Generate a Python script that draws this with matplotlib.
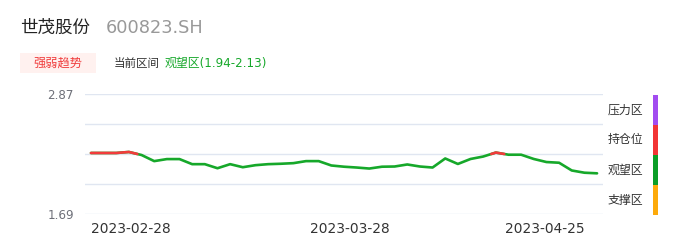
import numpy as np
import matplotlib
matplotlib.use('Agg')
import matplotlib.pyplot as plt
from matplotlib.patches import Rectangle
from matplotlib.transforms import ScaledTranslation

plt.rcParams['font.family'] = ['DejaVu Sans', 'Noto Sans CJK SC']

# data
stock_name = '世茂股份'
stock_code = '600823.SH'
zone_text = '观望区(1.94-2.13)'
tick_dates = ['2023-02-28', '2023-03-28', '2023-04-25']
tick_index = [0, 20, 40]
prices = [2.29, 2.29, 2.29, 2.30, 2.27, 2.21, 2.23, 2.23, 2.18, 2.18,
          2.14, 2.18, 2.15, 2.17, 2.18, 2.184, 2.19, 2.21, 2.21, 2.167,
          2.155, 2.147, 2.137, 2.155, 2.157, 2.177, 2.157, 2.147, 2.236, 2.182,
          2.231, 2.255, 2.294, 2.273, 2.273, 2.231, 2.201, 2.194, 2.118, 2.096,
          2.09]
hold_level = 2.28
y_min, y_max = 1.69, 2.87
zone_names = ['压力区', '持仓位', '观望区', '支撑区']
zone_colors = ['#a24cf0', '#f23535', '#0b9e27', '#fdaa0a']

GREEN = '#16a82a'
RED = '#f23b3b'

fig = plt.figure(figsize=(6.86, 2.47), dpi=100)
W, H = 686, 247

# header
fig.text(20 / W, 1 - 28 / H, stock_name, fontsize=12.6, color='#222222', va='center')
fig.text(106 / W, 1 - 28 / H, stock_code, fontsize=12.8, color='#999999', va='center')
fig.add_artist(Rectangle((20 / W, 1 - 73 / H), 76 / W, 20 / H,
                         transform=fig.transFigure, facecolor='#fff1ef', edgecolor='none'))
fig.text(58 / W, 1 - 63 / H, '强弱趋势', fontsize=8.8, color='#f03c3c', ha='center', va='center')
fig.text(114 / W, 1 - 63 / H, '当前区间', fontsize=8.3, color='#333333', va='center')
fig.text(165 / W, 1 - 63 / H, zone_text, fontsize=8.6, color='#16a82a', va='center')

# chart
ax = fig.add_axes([85 / W, 1 - 214 / H, (603 - 85) / W, 120 / H])
x = np.arange(len(prices))
y = np.array(prices)
ax.plot(x, y, color=GREEN, lw=1.9, solid_capstyle='round', zorder=3)

# red overlay where the line is above the hold level
xr, yr = [], []
for i in range(len(y)):
    if i > 0 and (y[i - 1] > hold_level) != (y[i] > hold_level):
        t = (hold_level - y[i - 1]) / (y[i] - y[i - 1])
        xr.append(x[i - 1] + t)
        yr.append(hold_level)
        if y[i] <= hold_level:
            xr.append(np.nan)
            yr.append(np.nan)
    if y[i] > hold_level:
        xr.append(x[i])
        yr.append(y[i])
ax.plot(xr, yr, color=RED, lw=1.9, solid_capstyle='round', zorder=4)

ax.set_xlim(-0.47, len(prices) - 1 + 0.47)
ax.set_ylim(y_min, y_max)
for lv in np.linspace(y_min, y_max, 5):
    ax.axhline(lv, color='#e0e6f1', lw=1, zorder=1)
ax.set_yticks([y_min, y_max])
ax.set_yticklabels([f'{y_min:.2f}', f'{y_max:.2f}'])
ax.tick_params(axis='y', length=0, pad=8, labelsize=8.6, labelcolor='#6e7079')
ax.set_xticks(tick_index)
ax.set_xticklabels(tick_dates)
ax.tick_params(axis='x', length=0, pad=6, labelsize=9.9, labelcolor='#333333')
for lab, ha, dx in zip(ax.get_xticklabels(), ['left', 'center', 'right'], [0, 6, -12]):
    lab.set_ha(ha)
    lab.set_transform(lab.get_transform() + ScaledTranslation(dx / 100, 0, fig.dpi_scale_trans))
for s in ax.spines.values():
    s.set_visible(False)

# zone legend on the right
band = 30
for k, (name, col) in enumerate(zip(zone_names, zone_colors)):
    top = 95 + k * band
    fig.add_artist(Rectangle((653 / W, 1 - (top + band) / H), 5 / W, band / H,
                             transform=fig.transFigure, facecolor=col, edgecolor='none'))
    fig.text(625 / W, 1 - (top + band / 2) / H, name, fontsize=8.6, color='#333333',
             ha='center', va='center')

fig.savefig('out.png', dpi=100)
